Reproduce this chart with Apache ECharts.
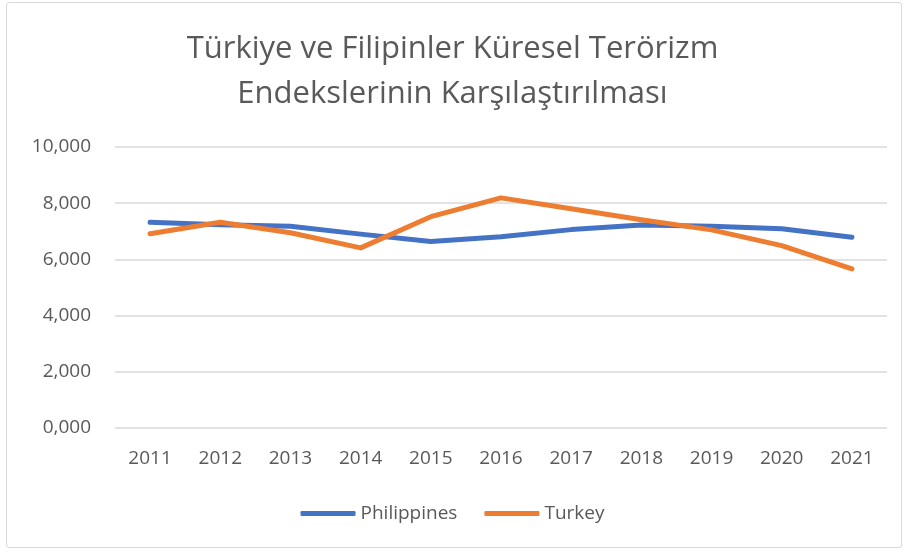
<!DOCTYPE html>
<html>
<head>
<meta charset="utf-8">
<script src="https://cdn.jsdelivr.net/npm/echarts@6/dist/echarts.min.js"></script>
<style>
  html, body { margin: 0; padding: 0; background: #fff; }
  #frame { position: absolute; left: 6px; top: 2px; width: 896px; height: 546px; border: 1px solid #d9d9d9; border-radius: 3px; box-sizing: border-box; }
  #main { width: 905px; height: 552px; }
</style>
</head>
<body>
<div id="frame"></div>
<div id="main"></div>
<script>
// yıllar
var years = ['2011', '2012', '2013', '2014', '2015', '2016', '2017', '2018', '2019', '2020', '2021'];
// Küresel Terörizm Endeksi değerleri
var philippines = [7.32, 7.23, 7.18, 6.90, 6.64, 6.81, 7.06, 7.22, 7.18, 7.09, 6.79];
var turkey = [6.91, 7.32, 6.95, 6.41, 7.52, 8.19, 7.80, 7.41, 7.05, 6.49, 5.66];

var textColor = '#595959';
var font = 'Open Sans';

var option = {
  animation: false,
  title: {
    text: 'Türkiye ve Filipinler Küresel Terörizm\nEndekslerinin Karşılaştırılması',
    left: 'center',
    top: 22,
    textStyle: {
      color: textColor,
      fontFamily: font,
      fontWeight: 'normal',
      fontSize: 31,
      lineHeight: 45
    }
  },
  grid: {
    left: 115,
    right: 18,
    top: 147,
    bottom: 124,
    containLabel: false
  },
  legend: {
    bottom: 24,
    left: 'center',
    itemWidth: 55,
    itemHeight: 5,
    itemGap: 27,
    icon: 'roundRect',
    textStyle: { color: textColor, fontFamily: font, fontSize: 19 },
    data: ['Philippines', 'Turkey']
  },
  xAxis: {
    type: 'category',
    data: years,
    boundaryGap: true,
    axisLine: { show: false },
    axisTick: { show: false },
    axisLabel: { color: textColor, fontFamily: font, fontSize: 19, margin: 21 }
  },
  yAxis: {
    type: 'value',
    min: 0,
    max: 10,
    interval: 2,
    axisLine: { show: false },
    axisTick: { show: false },
    splitLine: { lineStyle: { color: '#d9d9d9', width: 1.5 } },
    axisLabel: {
      color: textColor,
      fontFamily: font,
      fontSize: 19,
      margin: 24,
      formatter: function (v) { return v.toFixed(3).replace('.', ','); }
    }
  },
  series: [
    {
      name: 'Philippines',
      type: 'line',
      data: philippines,
      symbol: 'none',
      itemStyle: { color: '#4472C4' },
      lineStyle: { color: '#4472C4', width: 5, cap: 'round', join: 'round' }
    },
    {
      name: 'Turkey',
      type: 'line',
      data: turkey,
      symbol: 'none',
      itemStyle: { color: '#ED7D31' },
      lineStyle: { color: '#ED7D31', width: 5, cap: 'round', join: 'round' }
    }
  ]
};

var myChart = echarts.init(document.getElementById('main'));
myChart.setOption(option);
</script>
</body>
</html>
